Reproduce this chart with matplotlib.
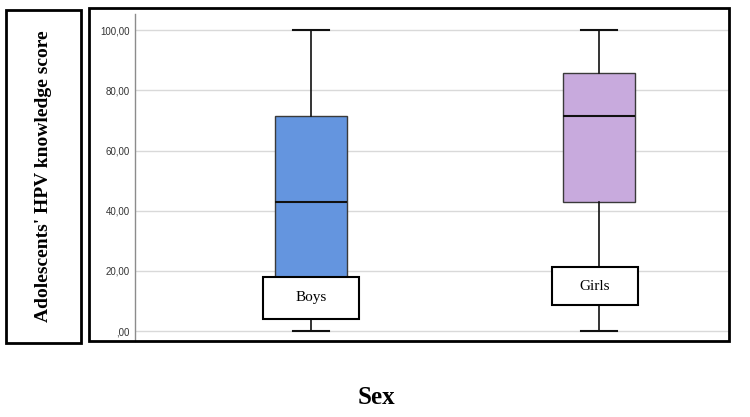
import matplotlib.pyplot as plt
from matplotlib.patches import Rectangle

# data (knowledge score quartiles per sex)
groups = ["Boys", "Girls"]
whislo = [0.0, 0.0]
q1 = [14.29, 42.86]
med = [42.86, 71.43]
q3 = [71.43, 85.71]
whishi = [100.0, 100.0]
colors = ["#6495DF", "#C8AADD"]
yticks = [0, 20, 40, 60, 80, 100]
ytick_labels = [",00", "20,00", "40,00", "60,00", "80,00", "100,00"]
# label boxes (bottom, top) in score units
label_lo = [4.0, 8.6]
label_hi = [18.0, 21.3]
label_w = [0.33, 0.30]
label_dx = [0.0, -0.015]

W, H = 750, 417
fig = plt.figure(figsize=(7.5, 4.17), dpi=100)

def fr(x0, y0, x1, y1):
    # pixel box -> figure fraction [l, b, w, h]
    return [x0 / W, 1 - y1 / H, (x1 - x0) / W, (y1 - y0) / H]

ax = fig.add_axes(fr(135, 14, 729, 341))
stats = []
for i in range(len(groups)):
    stats.append(dict(whislo=whislo[i], q1=q1[i], med=med[i], q3=q3[i],
                      whishi=whishi[i], fliers=[], label=groups[i]))
bp = ax.bxp(stats, positions=[1, 2], widths=0.25, patch_artist=True,
            showfliers=False,
            boxprops=dict(edgecolor="#3a3a3a", linewidth=1.0),
            medianprops=dict(color="#111111", linewidth=1.5),
            whiskerprops=dict(color="#111111", linewidth=1.2),
            capprops=dict(color="#111111", linewidth=1.5),
            capwidths=0.125, zorder=3)
for patch, c in zip(bp["boxes"], colors):
    patch.set_facecolor(c)

ax.set_xlim(0.389, 2.451)
ax.set_ylim(-3.3, 105.4)
ax.set_yticks(yticks)
ax.set_yticklabels(ytick_labels, fontsize=7, color="#333333",
                   family="Liberation Sans")
ax.set_xticks([])
ax.tick_params(axis="y", length=0, pad=4)
ax.yaxis.grid(True, color="#d9d9d9", linewidth=1.0, zorder=0)
ax.set_axisbelow(True)
for s in ["top", "right", "bottom"]:
    ax.spines[s].set_visible(False)
ax.spines["left"].set_color("#8c8c8c")
ax.spines["left"].set_linewidth(1.0)

# label boxes inside the plot
for i, g in enumerate(groups):
    x = i + 1 + label_dx[i]
    ax.add_patch(Rectangle((x - label_w[i] / 2, label_lo[i]), label_w[i],
                           label_hi[i] - label_lo[i], facecolor="white",
                           edgecolor="black", linewidth=1.5, zorder=5))
    ax.text(x, (label_lo[i] + label_hi[i]) / 2, g, ha="center", va="center",
            fontsize=11, family="Liberation Serif", zorder=6)

# outer frame and y-title frame
fig.patches.append(Rectangle(fr(89, 8, 729, 341)[:2], 640 / W, 333 / H,
                             transform=fig.transFigure, fill=False,
                             edgecolor="black", linewidth=2.0))
fig.patches.append(Rectangle(fr(6, 10, 81, 343)[:2], 75 / W, 333 / H,
                             transform=fig.transFigure, fill=False,
                             edgecolor="black", linewidth=2.0))
fig.text(43.5 / W, 1 - 176 / H, "Adolescents' HPV knowledge score",
         rotation=90, ha="center", va="center", fontsize=14,
         fontweight="bold", family="Liberation Serif")
fig.text(376 / W, 1 - 397 / H, "Sex", ha="center", va="center",
         fontsize=18, fontweight="bold", family="Liberation Serif")

fig.savefig("out.png", dpi=100)
